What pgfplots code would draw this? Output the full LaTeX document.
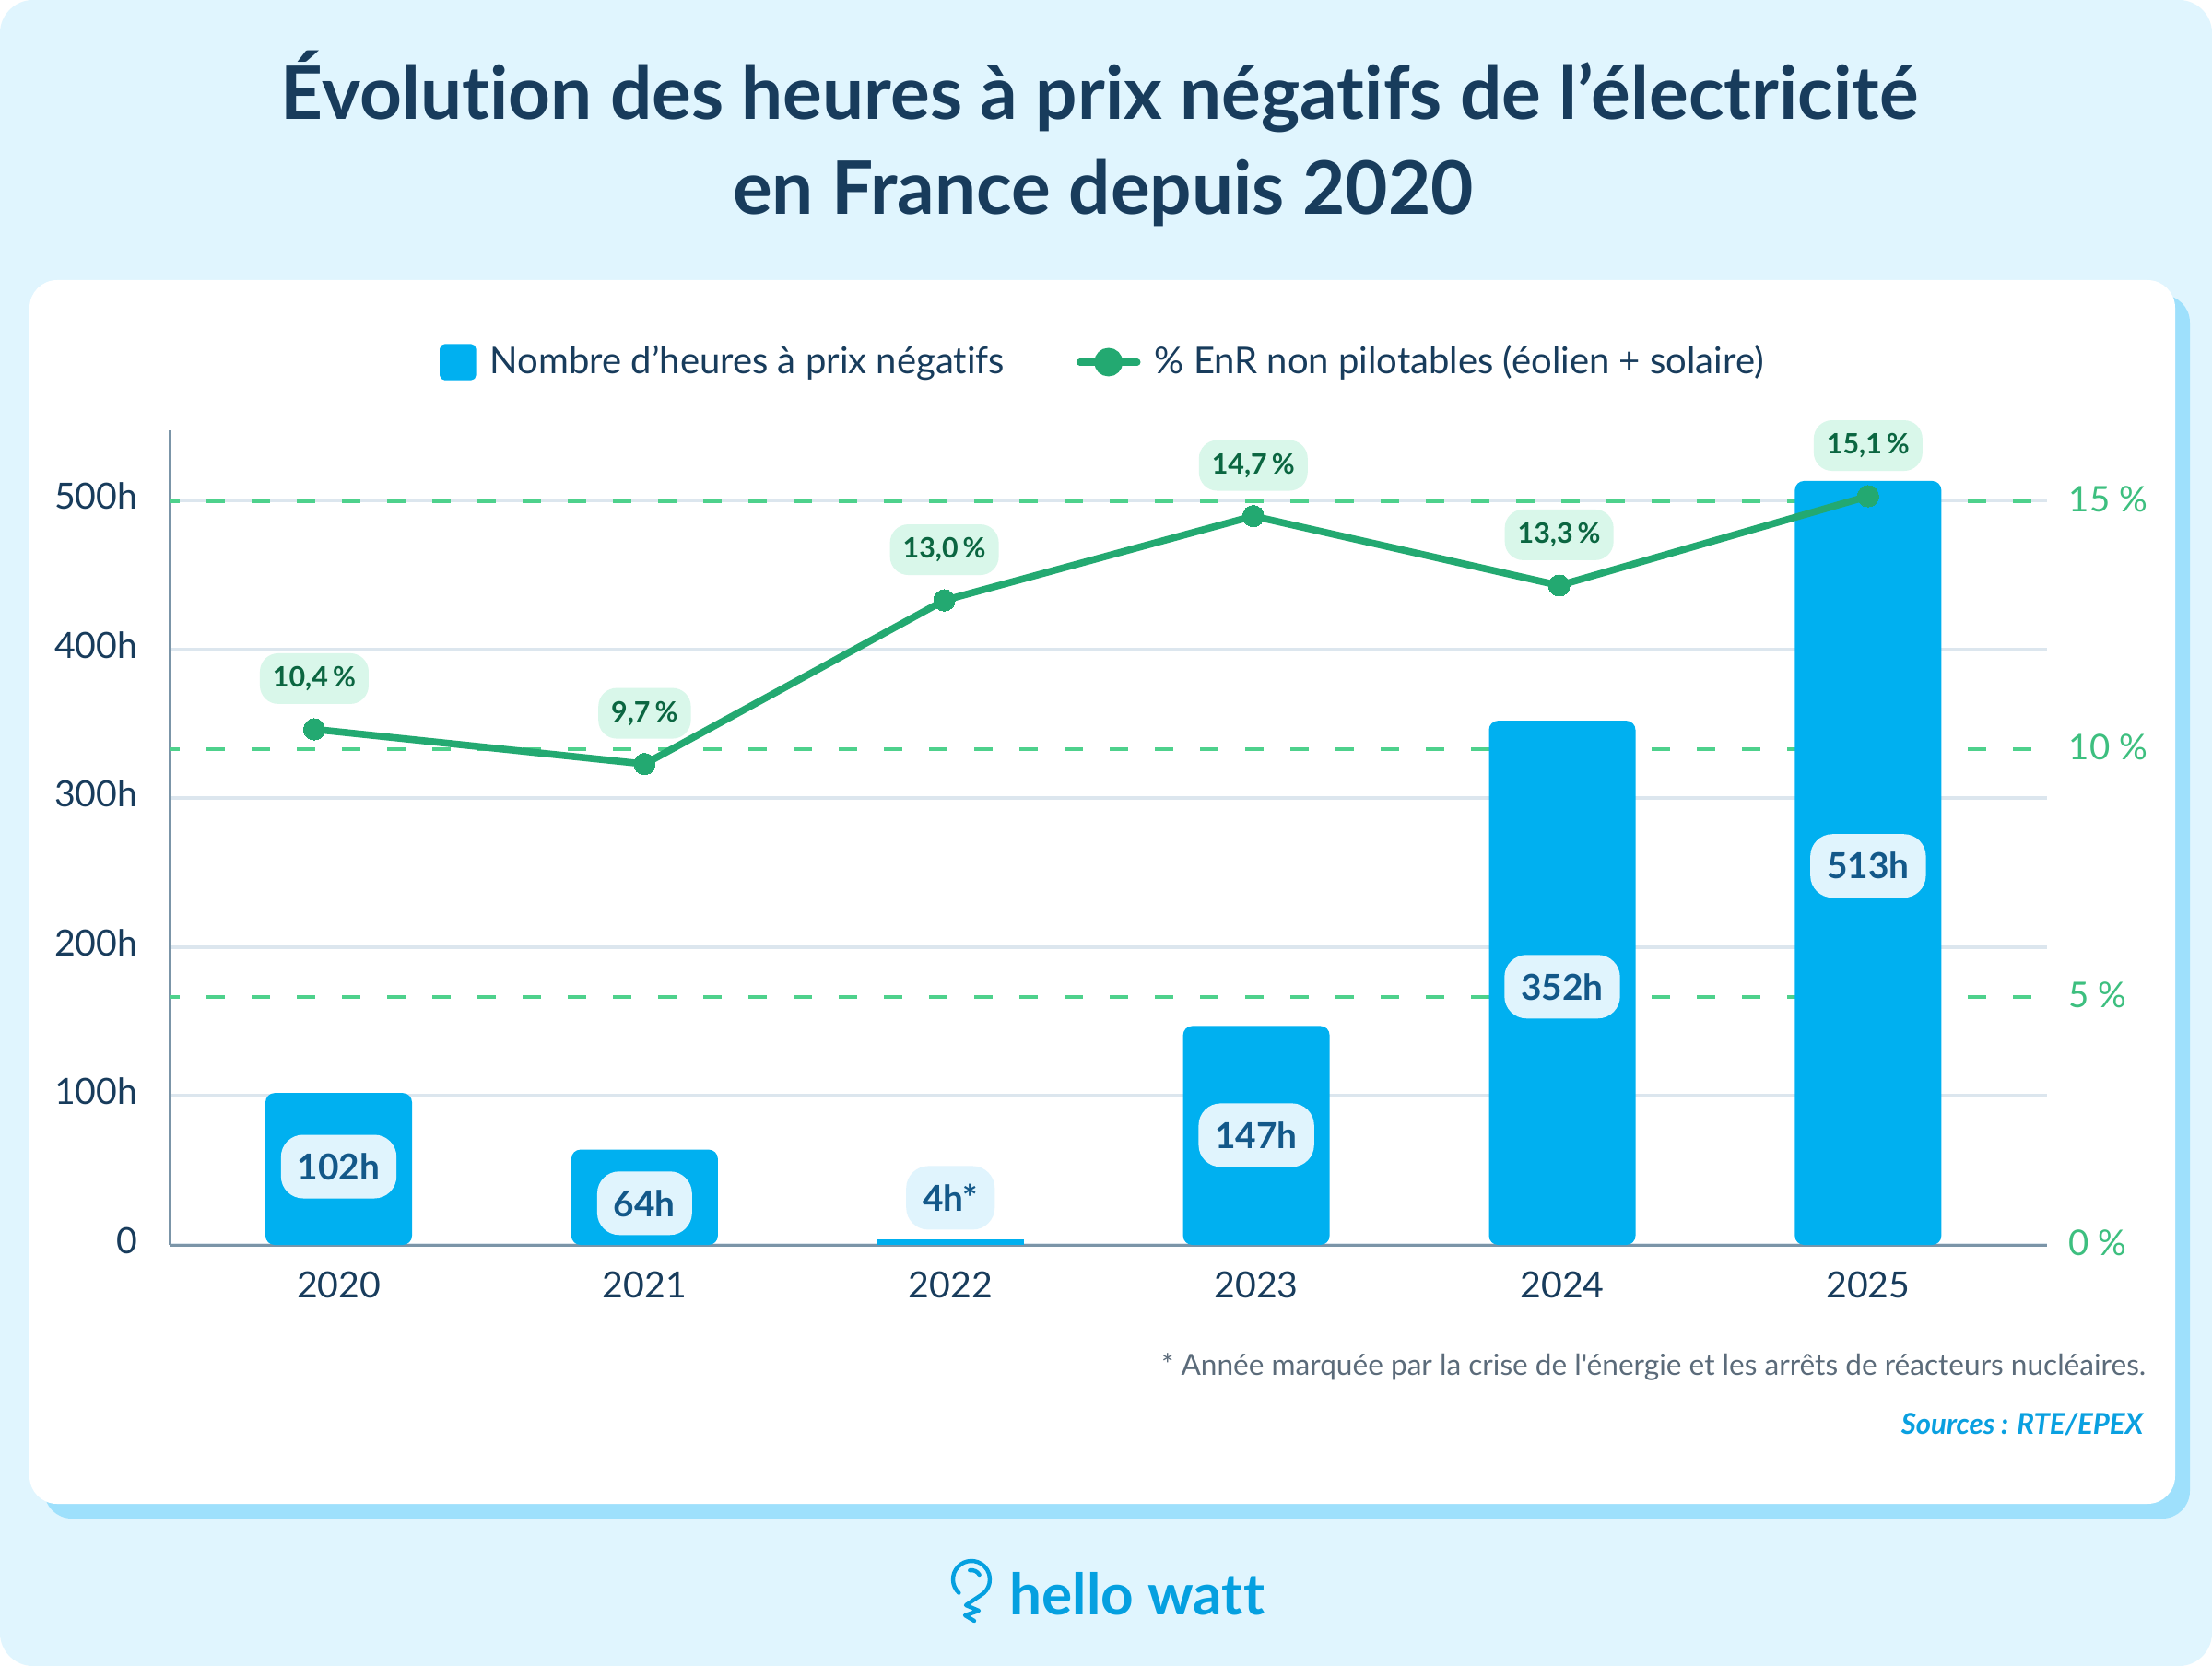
\documentclass[border=0pt]{standalone}
\usepackage{fontspec}
\setmainfont{Lato}[Ligatures={TeX,NoCommon}]
\newfontfamily\rawlato{Lato}[Ligatures=NoCommon]
\usepackage{pgfplots}
\pgfplotsset{compat=1.18}
\definecolor{bg}{HTML}{E0F5FE}
\definecolor{shadowc}{HTML}{9EE0FC}
\definecolor{navy}{HTML}{183C5C}
\definecolor{barblue}{HTML}{00B0F0}
\definecolor{linegreen}{HTML}{23A971}
\definecolor{dashgreen}{HTML}{4ED18C}
\definecolor{ticgreen}{HTML}{3DBF7F}
\definecolor{lblgreenbg}{HTML}{D9F7EA}
\definecolor{lblgreen}{HTML}{0B6641}
\definecolor{lblbluebg}{HTML}{E0F4FD}
\definecolor{lblblue}{HTML}{135889}
\definecolor{gridgray}{HTML}{DCE6EE}
\definecolor{axisgray}{HTML}{7B95A8}
\definecolor{footgray}{HTML}{5B6B7A}
\definecolor{srcblue}{HTML}{0AA0E0}
\definecolor{logoblue}{HTML}{05A0E0}
\newcommand\fs[1]{\fontsize{#1}{#1}\selectfont}
\pgfkeys{/pgf/number format/assume math mode=true}
\pgfplotsset{
  base/.style={scale only axis, width=509.25pt, height=221pt,
    at={(46pt,-337.75pt)}, anchor=south west,
    xmin=-0.553, xmax=5.585, clip=false},
  lefts/.style={ymin=0, ymax=547},
  rights/.style={ymin=0, ymax=16.43},
}
\begin{document}
\begin{tikzpicture}
\begin{scope}[x=0.25pt,y=-0.25pt]
\fill[white] (0,0) rectangle (2400,1808);
\fill[bg, rounded corners=9pt] (0,0) rectangle (2400,1808);
\fill[shadowc, rounded corners=7.5pt] (48,320) rectangle (2376,1648);
\fill[white, rounded corners=7.5pt] (32,304) rectangle (2360,1632);
\node[anchor=base, inner sep=0pt, font=\bfseries\fs{20}, text=navy] at (1193,130) {Évolution des heures à prix négatifs de l’électricité};
\node[anchor=base, inner sep=0pt, font=\bfseries\fs{20}, text=navy] at (1197,233) {en France depuis 2020};
\end{scope}

% layer 1: left axis, solid grid, axis lines, tick labels
\begin{axis}[base, lefts,
  axis x line*=bottom, axis y line*=left,
  x axis line style={axisgray, line width=0.75pt, -},
  y axis line style={axisgray, line width=0.65pt, -},
  ytick={0,100,200,300,400,500},
  yticklabels={0,100h,200h,300h,400h,500h},
  xtick={0,1,2,3,4,5},
  xticklabels={2020,2021,2022,2023,2024,2025},
  major tick length=0pt,
  ymajorgrids, major grid style={gridgray, line width=1pt},
  yticklabel style={font=\fs{9.8}, text=navy, inner sep=0pt, xshift=-8.5pt, yshift=1.2pt},
  xticklabel style={font=\fs{9.8}, text=navy, inner sep=0pt, yshift=-7pt},
]
\addplot[draw=none] coordinates {(0,0)};
\end{axis}

% layer 2: right axis, dashed grid
\begin{axis}[base, rights, hide x axis,
  axis y line*=right, y axis line style={draw=none},
  ytick={5,10,15}, yticklabels={5 \%,10 \%,15 \%},
  extra y ticks={0}, extra y tick labels={0 \%}, extra y tick style={grid=none},
  ymajorgrids, major grid style={dashgreen, line width=1pt, dash pattern=on 5pt off 7.25pt, dash phase=2.25pt},
  major tick length=0pt,
  yticklabel style={font=\fs{9.6}, text=ticgreen, inner sep=0pt, xshift=5.75pt, yshift=0.5pt},
]
\addplot[draw=none] coordinates {(0,0)};
\end{axis}

% layer 3: bars
\begin{axis}[base, lefts, hide axis]
\addplot[ybar, bar width=39.75pt, fill=barblue, draw=none, rounded corners=2.5pt]
  coordinates {(0,102) (1,64) (3,147) (4,352) (5,513)};
\addplot[ybar, bar width=39.75pt, fill=barblue, draw=none]
  coordinates {(2,4)};
\addplot[draw=none, nodes near coords, point meta=explicit symbolic,
  nodes near coords align={center},
  every node near coord/.append style={anchor=center, font=\bfseries\fs{9.7}, text=lblblue,
    fill=lblbluebg, rounded corners=6pt, inner xsep=4.5pt, inner ysep=0pt, minimum height=17.25pt}]
  table[meta=lab] {
x y lab
0 52.6 102h
1 28 64h
2 31.6 4h*
3 73.7 147h
4 173.4 352h
5 254.5 513h
};
\end{axis}

% layer 4: line
\begin{axis}[base, rights, hide axis,
  legend style={at={(0.4985,1.0837)}, anchor=center, draw=none, fill=none,
    font=\fs{10}, text=navy, legend columns=-1,
    /tikz/every odd column/.append style={column sep=1.8pt},
    /tikz/every even column/.append style={column sep=17.5pt}},
]
\addlegendimage{legend image code/.code={\fill[barblue, rounded corners=1.2pt] (0pt,-4.7pt) rectangle (9.5pt,4.7pt);}}
\addlegendentry{Nombre d’heures à prix négatifs}
\addplot[linegreen, line width=1.9pt, mark=*, mark size=2.9pt,
  mark options={fill=linegreen, draw=linegreen, line width=0pt},
  legend image code/.code={\draw[linegreen, line width=1.9pt, line cap=round] (0pt,0pt) -- (15.5pt,0pt);
    \fill[linegreen] (7.75pt,0pt) circle (2.9pt);},
  point meta=y, nodes near coords={\pgfmathprintnumber[fixed, fixed zerofill, precision=1, use comma]{\pgfplotspointmeta}\,\%},
  nodes near coords align={center},
  every node near coord/.append style={anchor=center, yshift=13.75pt, font=\bfseries\fs{7.6}, text=lblgreen,
    fill=lblgreenbg, rounded corners=5pt, inner xsep=3.5pt, inner ysep=0pt, minimum height=13.75pt}]
  table {
x y
-0.08 10.4
1 9.7
1.98 13.0
2.99 14.7
3.99 13.3
5 15.1
};
\addlegendentry{\% EnR non pilotables (éolien + solaire)}
\end{axis}

\begin{scope}[x=0.25pt,y=-0.25pt]
\node[anchor=base east, inner sep=0pt, font=\rawlato\fs{7.9}, text=footgray] at (2329,1492) {* Année marquée par la crise de l'énergie et les arrêts de réacteurs nucléaires.};
\node[anchor=base east, inner sep=0pt, font=\bfseries\itshape\fs{7.8}, text=srcblue] at (2326,1556) {Sources : RTE/EPEX};
\node[anchor=base west, inner sep=0pt, font=\bfseries\fs{15.5}, text=logoblue] at (1095,1752) {hello watt};
\draw[logoblue, line width=1.1pt, line cap=round, line join=round]
  (1054,1714) ++(133:20) arc[start angle=133, end angle=420, radius=20]
  -- (1048,1742) -- (1062,1748) -- (1047,1753) -- (1057,1759);
\draw[logoblue, line width=1.1pt, line cap=round] (1054,1714) ++(-100:10) arc[start angle=-100, end angle=-30, radius=10];
\end{scope}
\pgfresetboundingbox
\useasboundingbox (0pt,0pt) rectangle (600pt,-452pt);
\end{tikzpicture}
\end{document}
